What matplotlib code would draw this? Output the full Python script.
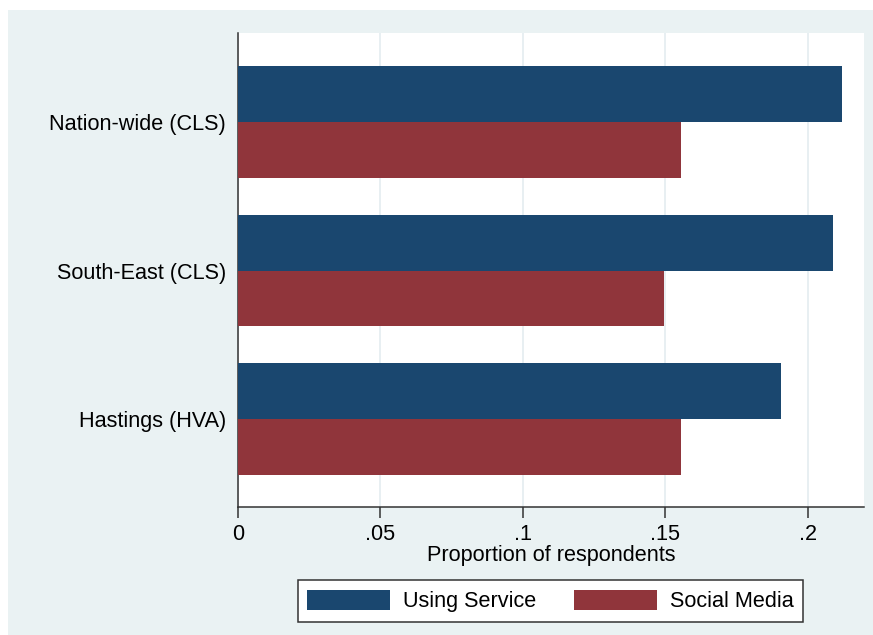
import matplotlib
matplotlib.use("Agg")
import matplotlib.pyplot as plt
from matplotlib.patches import Patch
import numpy as np

plt.rcParams['font.family'] = ['Liberation Sans', 'DejaVu Sans']

categories = ["Nation-wide (CLS)", "South-East (CLS)", "Hastings (HVA)"]
using_service = [0.212, 0.2088, 0.1905]
social_media = [0.1553, 0.1495, 0.1553]
series_labels = ["Using Service", "Social Media"]
x_ticks = [0, 0.05, 0.1, 0.15, 0.2]
x_tick_labels = ["0", ".05", ".1", ".15", ".2"]

navy = "#1A476F"
maroon = "#90353B"
panel = "#EAF2F3"
fs = 15.6

W, H = 873, 635
fig = plt.figure(figsize=(W / 100, H / 100), dpi=100)
fig.patch.set_facecolor("white")

# light outer panel behind the graph
bg = fig.add_axes([8 / W, 0, 1 - 8 / W, 1 - 10 / H], zorder=-5)
bg.set_axis_off()
bg.add_patch(plt.Rectangle((0, 0), 1, 1, transform=bg.transAxes,
                           facecolor=panel, edgecolor="none"))

ax = fig.add_axes([238 / W, 1 - 507 / H, (864 - 238) / W, (507 - 33) / H], zorder=1)
ax.set_facecolor("white")

y = np.arange(len(categories))
h = 0.377
ax.barh(y - h / 2, using_service, height=h, color=navy, zorder=3)
ax.barh(y + h / 2, social_media, height=h, color=maroon, zorder=3)

ax.set_ylim(2.593, -0.6)
ax.set_xlim(0, 0.2197)

ax.set_yticks(y)
ax.set_yticklabels(categories, fontsize=fs)
ax.set_xticks(x_ticks)
ax.set_xticklabels(x_tick_labels, fontsize=fs)
ax.tick_params(axis="x", colors="#333333", labelcolor="black", length=8, width=1.1, pad=4)
ax.tick_params(axis="y", labelcolor="black", length=0, pad=8.5)

ax.grid(axis="x", color="#E4ECF0", linewidth=1.2, zorder=0)
for s in ["top", "right"]:
    ax.spines[s].set_visible(False)
for s in ["left", "bottom"]:
    ax.spines[s].set_color("#333333")
    ax.spines[s].set_linewidth(1.1)

ax.set_xlabel("Proportion of respondents", fontsize=fs, labelpad=0)

handles = [Patch(facecolor=navy, edgecolor="none"),
           Patch(facecolor=maroon, edgecolor="none")]
leg = fig.legend(handles, series_labels, loc="center",
                 bbox_to_anchor=(550.5 / W, 1 - 601 / H), ncol=2, fontsize=fs,
                 frameon=True, fancybox=False, framealpha=1,
                 handlelength=3.8, handleheight=1.1,
                 handletextpad=0.62, columnspacing=1.75, borderpad=0.45)
leg.get_frame().set_edgecolor("#333333")
leg.get_frame().set_linewidth(1.1)
leg.set_zorder(5)

fig.savefig("out.png", dpi=100, facecolor=fig.get_facecolor())
